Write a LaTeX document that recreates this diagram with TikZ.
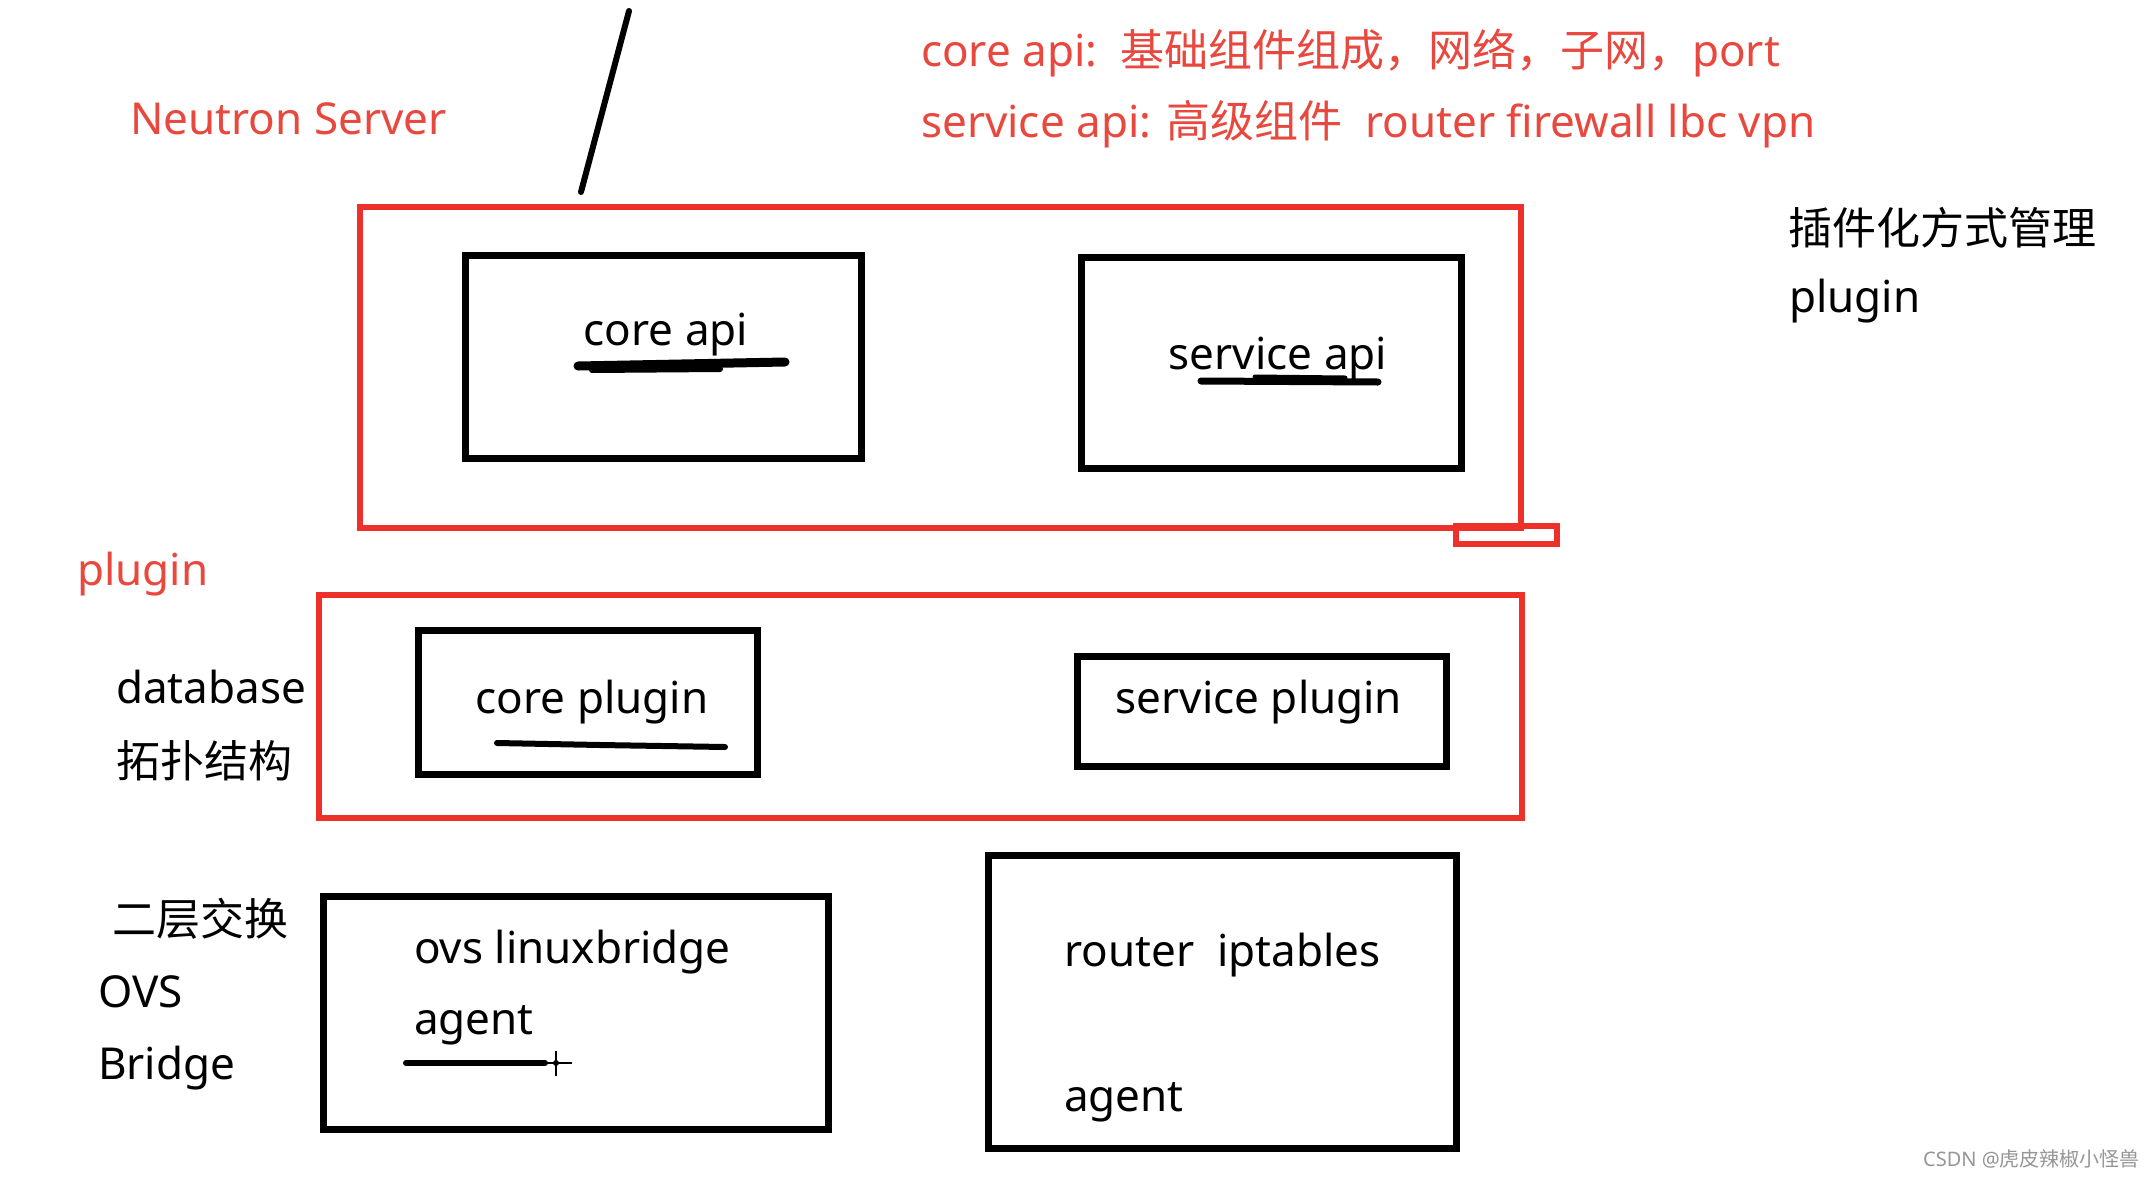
\documentclass[tikz,border=0pt]{standalone}
\usepackage{fontspec}
\setmainfont{Noto Sans}
\newfontfamily\cjk{Noto Sans CJK SC}
\definecolor{redbox}{RGB}{238,48,42}
\definecolor{redtext}{RGB}{232,72,62}
\definecolor{wmgrey}{RGB}{150,150,150}
\tikzset{
  blackbox/.style={draw=black,line width=7.5pt,rectangle,inner sep=0pt},
  redframe/.style={draw=redbox,line width=5.5pt,rectangle,inner sep=0pt},
  lbl/.style={inner sep=0pt,font=\fontsize{44}{52}\selectfont,text=black},
  redlbl/.style={inner sep=0pt,font=\fontsize{44}{52}\selectfont,text=redtext},
  scribble/.style={line width=#1,line cap=round,black},
}
\begin{document}
\begin{tikzpicture}[x=1pt,y=-1pt]
\useasboundingbox (0,0) rectangle (2145,1178);
\fill[white] (0,0) rectangle (2145,1178);

% slanted stroke
\coordinate (s1) at (629,11);
\coordinate (s2) at (581,192);
\draw[line width=6pt,line cap=round] (s1) -- (s2);

% red frames
\node[redframe,minimum width=1161pt,minimum height=321pt] (server) at (940.5,367.5) {};
\node[redframe,minimum width=101pt,minimum height=18pt] (tab) at (1506.5,535) {};
\node[redframe,minimum width=1203pt,minimum height=223pt] (pluginframe) at (920.5,706.5) {};

% black boxes
\node[blackbox,minimum width=396pt,minimum height=203pt] (coreapibox) at (663.5,357) {};
\node[blackbox,minimum width=380pt,minimum height=211pt] (serviceapibox) at (1271.5,363) {};
\node[blackbox,minimum width=339pt,minimum height=144pt] (coreplugbox) at (588,702.5) {};
\node[blackbox,minimum width=369pt,minimum height=110pt] (servplugbox) at (1262,711.5) {};
\node[blackbox,minimum width=505pt,minimum height=233pt] (ovsbox) at (576,1013) {};
\node[blackbox,minimum width=468pt,minimum height=293pt] (routerbox) at (1222.5,1002) {};

% red texts
\node[redlbl,anchor=base west] (ns) at (130,134) {Neutron Server};
\node[redlbl,anchor=base west] (l1) at (921,66) {core api:\ \ {\cjk 基础组件组成，网络，子网，}port};
\node[redlbl,anchor=base west] (l2) at (921,137) {service api: {\cjk 高级组件}\ \ router firewall lbc vpn};
\node[redlbl,anchor=base west] (plg) at (77,585) {plugin};

% right texts
\node[lbl,anchor=base west] (mgmt) at (1788,244) {\cjk 插件化方式管理};
\node[lbl,anchor=base west] (plg2) at (1789,312) {plugin};

% box texts
\node[lbl,anchor=base] (coreapi) at (666,345) {core api};
\node[lbl,anchor=base] (serviceapi) at (1278,369) {service api};
\node[lbl,anchor=base] (coreplug) at (592,713) {core plugin};
\node[lbl,anchor=base] (servplug) at (1259,713) {service plugin};
\node[lbl,anchor=base west] (ovslb) at (414,963) {ovs linuxbridge};
\node[lbl,anchor=base west] (agent1) at (414,1034) {agent};
\node[lbl,anchor=base west] (routeript) at (1064,966) {router\ \ iptables};
\node[lbl,anchor=base west] (agent2) at (1064,1111) {agent};

% left texts
\node[lbl,anchor=base west] (db) at (116,703) {database};
\node[lbl,anchor=base west] (topo) at (116,777) {\cjk 拓扑结构};
\node[lbl,anchor=base west] (l2sw) at (112,935) {\cjk 二层交换};
\node[lbl,anchor=base west] (ovs) at (98,1007) {OVS};
\node[lbl,anchor=base west] (bridge) at (98,1079) {Bridge};

% scribbled underlines
\draw[scribble=9pt] (578,366) -- (785,362);
\draw[scribble=6pt] (592,370) -- (720,369);
\draw[scribble=7pt] (1201,381) -- (1378,382);
\draw[scribble=5pt] (1255,377) -- (1345,378);
\draw[scribble=6pt] (497,743) -- (600,745) -- (725,747);
\draw[scribble=6pt] (406,1063) -- (545,1063);
\draw[line width=1.5pt] (545,1063) -- (572,1063);
\draw[line width=1.2pt] (556,1051) -- (556,1076);
\fill (556,1063) circle (3pt);

% watermark
\node[inner sep=0pt,anchor=base east,text=wmgrey,font=\fontsize{20}{24}\selectfont] (wm) at (2140,1166) {CSDN @{\cjk 虎皮辣椒小怪兽}};
\end{tikzpicture}
\end{document}
